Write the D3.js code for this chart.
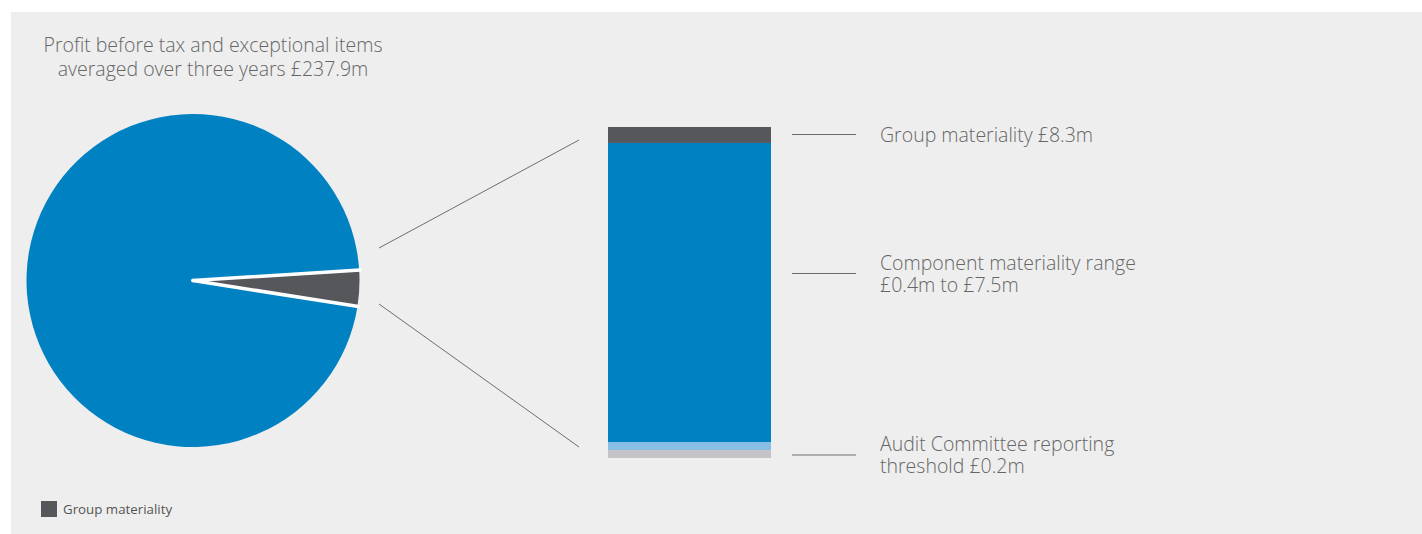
<!DOCTYPE html>
<html>
<head>
<meta charset="utf-8">
<script src="https://cdn.jsdelivr.net/npm/d3@7"></script>
<style>
  body { margin: 0; background: #fff; }
  svg { display: block; }
  text { font-family: 'Open Sans', 'Noto Sans', sans-serif; }
</style>
</head>
<body>
<div id="chart"></div>
<script>
// pie: profit before tax split into group materiality and the rest (£m)
const pieLabels = ['Group materiality', 'Remaining profit']
const pieValues = [8.3, 237.9 - 8.3]
const pieColors = ['#56575b', '#0081c2']

// stacked column, bottom to top (£m)
const barLabels = ['Audit Committee threshold', 'Component lower', 'Component materiality range', 'Group materiality top']
const barValues = [0.2, 0.2, 7.5, 0.4]
const barColors = ['#c5c3c7', '#88bde4', '#0081c2', '#56575b']

const titleLines = ['Profit before tax and exceptional items', 'averaged over three years £237.9m']
const calloutLines = [
  ['Group materiality £8.3m'],
  ['Component materiality range', '£0.4m to £7.5m'],
  ['Audit Committee reporting', 'threshold £0.2m']
]
const legendText = 'Group materiality'

const width = 1422
const height = 534
const textColor = '#666'

const svg = d3.select('#chart').append('svg')
  .attr('width', width)
  .attr('height', height)

svg.append('rect')
  .attr('x', 11).attr('y', 12)
  .attr('width', width - 11).attr('height', height - 12)
  .attr('fill', '#eeeeee')

// title
svg.append('text')
  .attr('x', 213).attr('y', 52)
  .attr('text-anchor', 'middle')
  .attr('fill', textColor)
  .style('font-size', '19.5px')
  .style('font-weight', 300)
  .selectAll('tspan')
  .data(titleLines)
  .join('tspan')
  .attr('x', 213)
  .attr('dy', (d, i) => i ? 24 : 0)
  .text(d => d)

// pie
const cx = 193
const cy = 280.5
const radius = 166.5
const startDeg = 86.4
const pie = d3.pie().sort(null)
  .startAngle(startDeg * Math.PI / 180)
  .endAngle(startDeg * Math.PI / 180 + 2 * Math.PI)
const arcs = pie(pieValues)
const arc = d3.arc().innerRadius(0).outerRadius(radius)

const pieG = svg.append('g').attr('transform', `translate(${cx},${cy})`)
pieG.selectAll('path')
  .data(arcs)
  .join('path')
  .attr('d', arc)
  .attr('fill', (d, i) => pieColors[i])

// white edges of the group materiality slice
const edgeAngles = [arcs[0].startAngle, arcs[0].endAngle]
pieG.selectAll('line.edge')
  .data(edgeAngles)
  .join('line')
  .attr('class', 'edge')
  .attr('x1', 0).attr('y1', 0)
  .attr('x2', a => Math.sin(a) * (radius + 1))
  .attr('y2', a => -Math.cos(a) * (radius + 1))
  .attr('stroke', '#fff')
  .attr('stroke-width', 3.5)
  .attr('stroke-linecap', 'round')

// stacked column
const barX = 608
const barW = 163
const y = d3.scaleLinear()
  .domain([0, d3.sum(barValues)])
  .range([458, 127])
const stack = barValues.map((v, i) => ({ v, i, y0: d3.sum(barValues.slice(0, i)) }))
svg.append('g').selectAll('rect')
  .data(stack)
  .join('rect')
  .attr('x', barX)
  .attr('width', barW)
  .attr('y', d => y(d.y0 + d.v))
  .attr('height', d => y(d.y0) - y(d.y0 + d.v))
  .attr('fill', d => barColors[d.i])

// zoom lines from pie to column
const zoomLines = [
  { x1: 379, y1: 248, x2: 579, y2: 140 },
  { x1: 379, y1: 304, x2: 579, y2: 447 }
]
svg.append('g').selectAll('line')
  .data(zoomLines)
  .join('line')
  .attr('x1', d => d.x1).attr('y1', d => d.y1)
  .attr('x2', d => d.x2).attr('y2', d => d.y2)
  .attr('stroke', '#6e6e6e')
  .attr('stroke-width', 1)

// callouts
const calloutY = [134.5, 273.5, 455]
const callG = svg.append('g').selectAll('g')
  .data(calloutLines)
  .join('g')
callG.append('line')
  .attr('x1', 792).attr('x2', 856)
  .attr('y1', (d, i) => calloutY[i])
  .attr('y2', (d, i) => calloutY[i])
  .attr('stroke', '#6e6e6e')
  .attr('stroke-width', 1)
callG.each(function (lines, i) {
  d3.select(this).selectAll('text')
    .data(lines)
    .join('text')
    .attr('x', 880)
    .attr('y', (d, j) => calloutY[i] + (lines.length > 1 ? -4 : 7) + j * 22)
    .attr('fill', textColor)
    .style('font-size', '19.5px')
    .style('font-weight', 300)
    .text(d => d)
})

// legend
svg.append('rect')
  .attr('x', 41).attr('y', 501)
  .attr('width', 16).attr('height', 16)
  .attr('fill', pieColors[0])
svg.append('text')
  .attr('x', 63).attr('y', 514)
  .attr('fill', '#555')
  .style('font-size', '13.3px')
  .text(legendText)
</script>
</body>
</html>
